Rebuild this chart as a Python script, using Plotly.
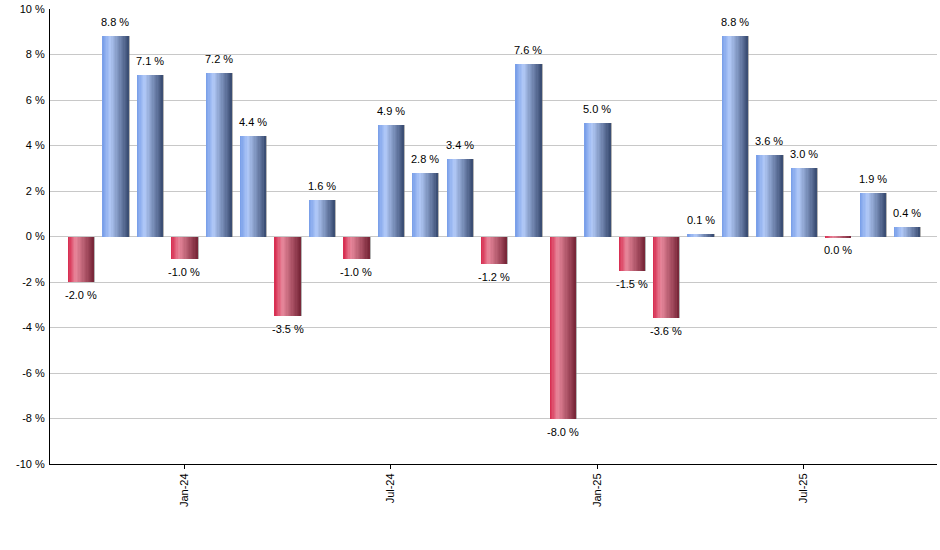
import plotly.graph_objects as go

months = ["Oct-23", "Nov-23", "Dec-23", "Jan-24", "Feb-24", "Mar-24", "Apr-24", "May-24",
          "Jun-24", "Jul-24", "Aug-24", "Sep-24", "Oct-24", "Nov-24", "Dec-24", "Jan-25",
          "Feb-25", "Mar-25", "Apr-25", "May-25", "Jun-25", "Jul-25", "Aug-25", "Sep-25", "Oct-25"]
values = [-2.0, 8.8, 7.1, -1.0, 7.2, 4.4, -3.5, 1.6, -1.0, 4.9, 2.8, 3.4, -1.2, 7.6, -8.0,
          5.0, -1.5, -3.6, 0.1, 8.8, 3.6, 3.0, -0.03, 1.9, 0.4]
labels = ["-2.0 %", "8.8 %", "7.1 %", "-1.0 %", "7.2 %", "4.4 %", "-3.5 %", "1.6 %", "-1.0 %",
          "4.9 %", "2.8 %", "3.4 %", "-1.2 %", "7.6 %", "-8.0 %", "5.0 %", "-1.5 %", "-3.6 %",
          "0.1 %", "8.8 %", "3.6 %", "3.0 %", "0.0 %", "1.9 %", "0.4 %"]
tick_months = ["Jan-24", "Jul-24", "Jan-25", "Jul-25"]
y_ticks = [-10, -8, -6, -4, -2, 0, 2, 4, 6, 8, 10]
y_ticktext = [f"{v} %" for v in y_ticks]

FONT = "Liberation Sans, Arial, sans-serif"
BAR_W = 0.76
N_STRIPS = 20

# gradient stops (t, rgb)
blue_stops = [(0.0, (118, 156, 232)), (0.3, (178, 202, 248)), (1.0, (56, 74, 112))]
red_stops = [(0.0, (214, 40, 76)), (0.3, (232, 136, 156)), (1.0, (118, 36, 54))]


def interp(stops, t):
    for (t0, c0), (t1, c1) in zip(stops[:-1], stops[1:]):
        if t0 <= t <= t1:
            f = (t - t0) / (t1 - t0) if t1 > t0 else 0
            c = [round(a + (b - a) * f) for a, b in zip(c0, c1)]
            return f"rgb({c[0]},{c[1]},{c[2]})"
    c = stops[-1][1]
    return f"rgb({c[0]},{c[1]},{c[2]})"


fig = go.Figure()

# shadow
fig.add_trace(go.Bar(
    x=months, y=values, width=BAR_W, offset=-BAR_W / 2 + 0.035,
    marker=dict(color="rgba(120,120,120,0.55)", line=dict(width=0)),
    hoverinfo="skip", showlegend=False))

sw = BAR_W / N_STRIPS
for i in range(N_STRIPS):
    t = (i + 0.5) / N_STRIPS
    colors = [interp(blue_stops, t) if v >= 0 else interp(red_stops, t) for v in values]
    fig.add_trace(go.Bar(
        x=months, y=values, width=BAR_W - i * sw, offset=-BAR_W / 2 + i * sw,
        marker=dict(color=colors, line=dict(width=0)),
        hoverinfo="skip", showlegend=False))

for m, v, lab in zip(months, values, labels):
    pos = v > 0
    fig.add_annotation(
        x=m, y=v, text=lab, showarrow=False,
        yanchor="bottom" if pos else "top", yshift=6 if pos else -5,
        font=dict(family=FONT, size=11, color="#000000"))

fig.update_layout(
    width=940, height=550,
    margin=dict(l=50, r=3, t=9, b=86, autoexpand=False),
    paper_bgcolor="white", plot_bgcolor="white",
    barmode="overlay", bargap=0,
    font=dict(family=FONT, size=11, color="#000000"),
    showlegend=False,
)
fig.update_xaxes(
    type="category", range=[-0.9, len(months) - 0.13], automargin=False,
    tickmode="array", tickvals=tick_months, ticktext=tick_months,
    tickangle=-90, ticks="outside", ticklen=4, tickcolor="black",
    showline=True, linecolor="black", linewidth=1, showgrid=False,
    tickfont=dict(family=FONT, size=11, color="black"),
)
fig.update_yaxes(
    range=[-10, 10], tickmode="array", tickvals=y_ticks, ticktext=y_ticktext,
    automargin=False,
    showline=True, linecolor="black", linewidth=1,
    showgrid=True, gridcolor="#c8c8c8", gridwidth=1,
    zeroline=False, ticks="", ticklabelstandoff=2,
    tickfont=dict(family=FONT, size=11, color="black"),
)

fig.write_html("out.html", config={"displayModeBar": False},
               post_script="document.body.style.margin='0';document.body.style.overflow='hidden';")
